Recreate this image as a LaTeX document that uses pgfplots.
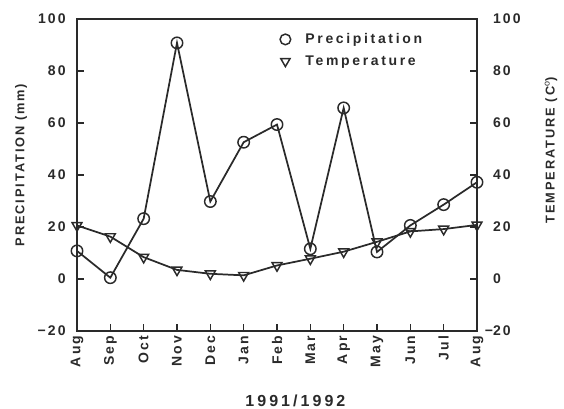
\documentclass[border=0pt]{standalone}
\usepackage{pgfplots}
\pgfplotsset{compat=1.18}
\usepackage{fontspec}
\setmainfont[LetterSpace=15]{Liberation Sans}
\newfontfamily\legfont[LetterSpace=19]{Liberation Sans}
\definecolor{ink}{HTML}{2A2A2A}
\pgfplotstableread{
x prec temp
0 10.8 20.6
1 0.5 16.3
2 23.2 8.4
3 90.8 3.5
4 29.8 2.0
5 52.6 1.4
6 59.4 5.2
7 11.6 7.8
8 65.8 10.5
9 10.4 14.3
10 20.6 18.3
11 28.6 19.2
12 37.2 20.8
}\datatable
\begin{document}
\begin{tikzpicture}
\useasboundingbox (-57.75pt,-58.5pt) rectangle (365.25pt,248.25pt);
\pgfplotsset{
  common/.style={
    at={(0,0)}, anchor=south west,
    width=300pt, height=234pt, scale only axis,
    xmin=0, xmax=12, ymin=-20, ymax=100,
    ytick={-20,0,20,40,60,80,100},
    tick align=inside,
    major tick length=5.5pt,
    tick style={line width=1.1pt, ink},
    ticklabel style={font=\fontsize{10.5}{12}\selectfont\bfseries, text=ink},
    clip=false,
  },
}
\begin{axis}[common,
  xtick={0,...,12},
  xticklabels={Aug,Sep,Oct,Nov,Dec,Jan,Feb,Mar,Apr,May,Jun,Jul,Aug},
  xticklabel style={rotate=90, anchor=east},
  xtick pos=left,
  ytick pos=left,
  yticklabels={−20,0,20,40,60,80,100},
  yticklabel style={xshift=-5pt},
  axis line style={line width=1.2pt, ink},
]
\addplot[ink, line width=1.3pt, mark=o, mark size=4.3pt, mark options={line width=1.1pt, fill=white}] table[x=x, y=prec] {\datatable};
\node[rotate=90, font=\fontsize{9.6}{12}\selectfont\bfseries, text=ink] at (rel axis cs:-0.14,0.532) {PRECIPITATION (mm)};
\node[font=\fontsize{12}{14}\selectfont\legfont\bfseries, text=ink] at (rel axis cs:0.546,-0.224) {1991/1992};
\end{axis}
\begin{axis}[common,
  xtick=\empty,
  ytick pos=right,
  yticklabel pos=right,
  yticklabels={\llap{−}20,0,20,40,60,80,100},
  yticklabel style={anchor=west, xshift=8.5pt},
  axis line style={draw=none},
  legend style={draw=none, fill=none, at={(rel axis cs:0.497,0.972)}, anchor=north west,
    font=\fontsize{10.5}{12}\selectfont\legfont\bfseries, text=ink, row sep=3.5pt, column sep=9pt},
  legend cell align=left,
]
\addlegendimage{only marks, ink, mark=o, mark size=4pt, mark options={line width=1.1pt}}
\addlegendentry{Precipitation}
\addlegendimage{only marks, ink, mark=triangle, mark size=4pt, mark options={line width=1.1pt, rotate=180}}
\addlegendentry{Temperature}
\addplot[ink, line width=1.3pt, mark=triangle, mark size=4.3pt, mark options={line width=1.1pt, rotate=180, fill=white}, forget plot] table[x=x, y=temp] {\datatable};
\node[rotate=90, font=\fontsize{9.6}{12}\selectfont\bfseries, text=ink] at (rel axis cs:1.185,0.58) {TEMPERATURE (C$^{\mathrm{o}}$)};
\end{axis}
\end{tikzpicture}
\end{document}
